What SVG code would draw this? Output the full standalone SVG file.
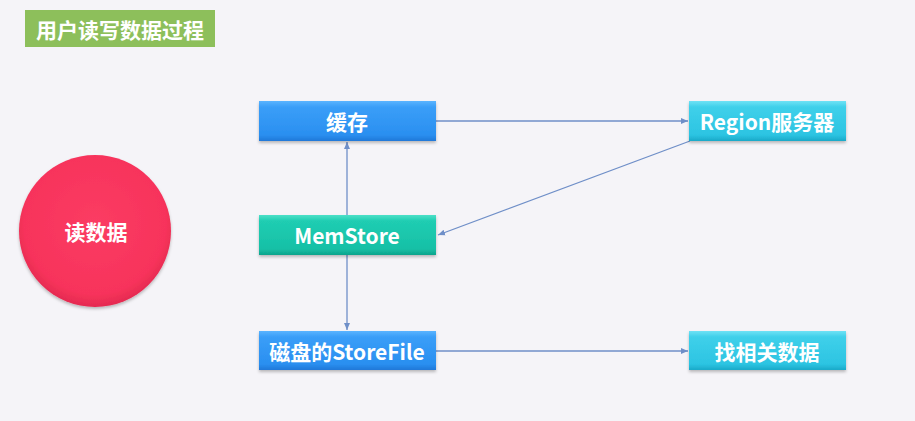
<svg xmlns="http://www.w3.org/2000/svg" width="915" height="421" viewBox="0 0 915 421">
<defs>
<style>
.t{font-family:"Noto Sans CJK SC","Liberation Sans",sans-serif;font-weight:bold;fill:#fff;text-anchor:middle;dominant-baseline:central}
.c{fill:none;stroke:#6f8fc8;stroke-width:1.3}
</style>
<linearGradient id="gBlue" x1="0" y1="0" x2="0" y2="1"><stop offset="0" stop-color="#5ab4ff"/><stop offset="0.15" stop-color="#3a9ef8"/><stop offset="0.85" stop-color="#2a8ff0"/><stop offset="1" stop-color="#1f78d8"/></linearGradient>
<linearGradient id="gCyan" x1="0" y1="0" x2="0" y2="1"><stop offset="0" stop-color="#6ee2f5"/><stop offset="0.15" stop-color="#3fd0ea"/><stop offset="0.85" stop-color="#2cc4e2"/><stop offset="1" stop-color="#1aa9c8"/></linearGradient>
<linearGradient id="gTeal" x1="0" y1="0" x2="0" y2="1"><stop offset="0" stop-color="#4de0c8"/><stop offset="0.15" stop-color="#20cdb2"/><stop offset="0.85" stop-color="#16c0a6"/><stop offset="1" stop-color="#0ea38c"/></linearGradient>
<radialGradient id="gRed" cx="0.5" cy="0.45" r="0.55"><stop offset="0" stop-color="#fb3c63"/><stop offset="0.85" stop-color="#f7335b"/><stop offset="1" stop-color="#e42a50"/></radialGradient>
<filter id="sh" x="-10%" y="-10%" width="120%" height="130%"><feDropShadow dx="0" dy="2" stdDeviation="1.5" flood-color="#000" flood-opacity="0.25"/></filter>
<marker id="ar" markerWidth="8" markerHeight="8" refX="7" refY="4" orient="auto" markerUnits="userSpaceOnUse"><path d="M0,1 L7,4 L0,7 z" fill="#6f8fc8"/></marker>
</defs>
<rect width="915" height="421" fill="#f5f4f8"/>
<g id="title"><rect x="25" y="10" width="190" height="37" fill="#8dbf5b"/><text class="t" x="120" y="28.5" font-size="21">用户读写数据过程</text></g>
<g id="connectors">
<line class="c" x1="436" y1="121" x2="688" y2="121" marker-end="url(#ar)"/>
<line class="c" x1="690" y1="141" x2="438" y2="235" marker-end="url(#ar)"/>
<line class="c" x1="347" y1="215" x2="347" y2="142" marker-end="url(#ar)"/>
<line class="c" x1="347" y1="255" x2="347" y2="330" marker-end="url(#ar)"/>
<line class="c" x1="436" y1="351" x2="688" y2="351" marker-end="url(#ar)"/>
</g>
<g id="read"><circle cx="95" cy="231" r="76" fill="url(#gRed)" filter="url(#sh)"/><text class="t" x="96" y="231" font-size="21">读数据</text></g>
<g id="cache"><rect x="259" y="101" width="177" height="40" fill="url(#gBlue)" filter="url(#sh)"/><text class="t" x="347" y="121" font-size="21">缓存</text></g>
<g id="region"><rect x="689" y="101" width="157" height="40" fill="url(#gCyan)" filter="url(#sh)"/><text class="t" x="767" y="121" font-size="21">Region服务器</text></g>
<g id="memstore"><rect x="259" y="215" width="177" height="40" fill="url(#gTeal)" filter="url(#sh)"/><text class="t" x="347" y="235" font-size="21">MemStore</text></g>
<g id="storefile"><rect x="259" y="331" width="177" height="39" fill="url(#gBlue)" filter="url(#sh)"/><text class="t" x="347" y="350.5" font-size="21">磁盘的StoreFile</text></g>
<g id="find"><rect x="689" y="331" width="157" height="39" fill="url(#gCyan)" filter="url(#sh)"/><text class="t" x="767" y="350.5" font-size="21">找相关数据</text></g>
</svg>
